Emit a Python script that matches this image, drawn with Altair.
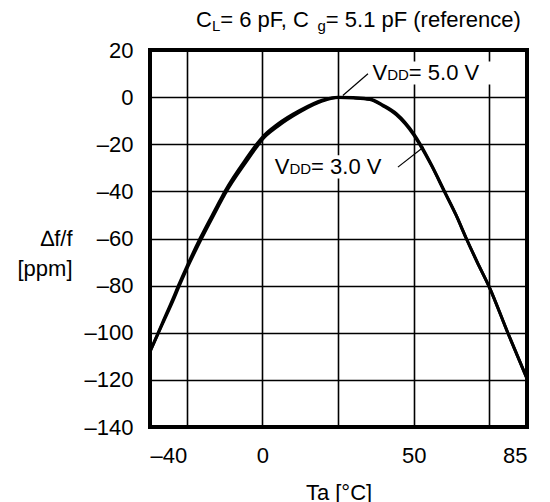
import altair as alt
import pandas as pd

# ---------------- data ----------------
temps = [-40, -35, -30, -28.4, -25, -20.6, -15, -12.4, -5, -1.9, 0, 5, 12.4, 20, 25,
         30, 35.5, 40, 44.3, 50, 52.2, 56, 60.2, 64, 67.4, 71, 75, 79.9, 85]
vdd_50 = [-108, -96, -84, -80, -72, -60, -46.3, -40, -25.5, -20, -17, -11.5, -5.6, -1.2, 0,
          -0.2, -0.8, -3.5, -7, -15.5, -20, -29, -40, -50, -60, -70, -80.6, -100, -119.5]
vdd_30 = [-108, -96.5, -85, -81, -73, -61.3, -47.5, -41.2, -26.8, -21.2, -18, -12.5, -6.3, -1.6, -0.2,
          -0.4, -1, -3.8, -7.5, -16, -20.5, -29.3, -40.2, -50, -60, -70, -80.6, -100, -119.5]
series_names = ["VDD = 5.0 V", "VDD = 3.0 V"]

x_ticks = [-40, -25, 0, 25, 50, 75, 85]
y_ticks = [-140, -120, -100, -80, -60, -40, -20, 0, 20]

label_volts = ["5.0", "3.0"]
label_x = [36.4, 4.1]
label_y = [7.3, -32.6]
box_x = [35.5, 3.1]
box_x2 = [76.8, 45.0]
box_y = [15.1, -24.7]
box_y2 = [5.4, -34.5]
lead_x = [26.6, 44.8]
lead_y = [0.7, -29.7]
lead_x2 = [34.9, 53.3]
lead_y2 = [9.9, -21.2]

title_parts = ["C", "L", " = 6 pF, C", "g", " = 5.1 pF (reference)"]
title_is_sub = [False, True, False, True, False]

FONT = "Liberation Sans"
BIG = 22
SMALL = 15
SUB = 15
W, H = 377, 377
NB = "\u00a0"

# Arial / Liberation Sans advance widths (per 1000 em)
CW = {"C": 722, "L": 556, " ": 278, "=": 584, "6": 556, "p": 556, "F": 611, ",": 278,
      "g": 556, "5": 556, ".": 278, "1": 556, "(": 333, "r": 333, "e": 556, "f": 278,
      "n": 556, "c": 500, ")": 333, "V": 667, "D": 722, "0": 556, "3": 556}


def tw(s, size):
    return sum(CW.get(ch, 556) for ch in s) * size / 1000.0


def nb(s):
    return s.replace(" ", NB)


curves = pd.DataFrame({
    "temp": temps + temps,
    "ppm": vdd_50 + vdd_30,
    "series": [series_names[0]] * len(temps) + [series_names[1]] * len(temps),
})
labels = pd.DataFrame({"temp": label_x, "ppm": label_y, "volts": label_volts})
labels["rest"] = [nb(" = " + v + " V") for v in label_volts]
boxes = pd.DataFrame({"temp": box_x, "temp2": box_x2, "ppm": box_y, "ppm2": box_y2})
leads = pd.DataFrame({"temp": lead_x, "temp2": lead_x2, "ppm": lead_y, "ppm2": lead_y2})

xscale = alt.Scale(domain=[-40, -25, 75, 85], range=[0, 36.7, 339.3, W], nice=False, zero=False)
yscale = alt.Scale(domain=[-140, 20], nice=False, zero=False)

neg_expr = "datum.value < 0 ? '\u2013' + abs(datum.value) : '' + datum.value"

x_axis = alt.Axis(values=x_ticks, title="Ta [\u00b0C]", labelExpr=neg_expr, grid=True,
                  labelPadding=28, labelBaseline="middle", titleY=65, titleBaseline="middle")
y_axis = alt.Axis(values=y_ticks, title=["\u2206f/f", "[ppm]"], labelExpr=neg_expr, grid=True,
                  labelPadding=17, titleAngle=0, titleAlign="right", titleX=-78, titleY=188,
                  titleBaseline="middle", titleLineHeight=30)


def X(field="temp"):
    return alt.X(field + ":Q", scale=xscale, axis=x_axis, title="Ta [\u00b0C]")


def Y(field="ppm"):
    return alt.Y(field + ":Q", scale=yscale, axis=y_axis, title=["\u2206f/f", "[ppm]"])


lines = alt.Chart(curves).mark_line(color="black", strokeWidth=3, interpolate="monotone").encode(
    x=X(), y=Y(), detail="series:N")

rects = alt.Chart(boxes).mark_rect(color="white").encode(
    x=X(), x2="temp2:Q", y=Y(), y2="ppm2:Q")

rules = alt.Chart(leads).mark_rule(color="black", strokeWidth=1.2).encode(
    x=X(), x2="temp2:Q", y=Y(), y2="ppm2:Q")

tbase = alt.Chart(labels)
dx_dd = tw("V", BIG)
dx_rest = dx_dd + tw("DD", SMALL)
t_v = tbase.mark_text(align="left", baseline="alphabetic", font=FONT, fontSize=BIG, text="V").encode(
    x=X(), y=Y())
t_dd = tbase.mark_text(align="left", baseline="alphabetic", font=FONT, fontSize=SMALL, dx=dx_dd,
                       text="DD").encode(x=X(), y=Y())
t_rest = tbase.mark_text(align="left", baseline="alphabetic", font=FONT, fontSize=BIG, dx=dx_rest).encode(
    x=X(), y=Y(), text="rest:N")

# title pieces (right-aligned with plot right edge)
sizes = [SUB if s else BIG for s in title_is_sub]
total = sum(tw(p, s) for p, s in zip(title_parts, sizes))
cur = W - total
title_layers = []
one = pd.DataFrame({"k": [0]})
for part, sub, size in zip(title_parts, title_is_sub, sizes):
    title_layers.append(
        alt.Chart(one).mark_text(align="left", baseline="alphabetic", font=FONT, fontSize=size,
                                 color="black").encode(
            x=alt.value(cur), y=alt.value(-23 + (4 if sub else 0)), text=alt.value(nb(part)))
    )
    cur += tw(part, size)

chart = alt.layer(rects, lines, rules, t_v, t_dd, t_rest, *title_layers).properties(
    width=W, height=H,
    autosize=alt.AutoSizeParams(type="none"),
    padding={"left": 142, "top": 42, "right": 15, "bottom": 75},
).configure_view(
    stroke="black", strokeWidth=4
).configure_axis(
    labelFont=FONT, labelFontSize=BIG, labelColor="black",
    titleFont=FONT, titleFontSize=BIG, titleColor="black", titleFontWeight="normal",
    gridColor="black", gridWidth=1.6, gridOpacity=1,
    domain=False, ticks=False,
).configure_text(color="black")

chart.save("out.html", embed_options={"renderer": "svg", "actions": False})
